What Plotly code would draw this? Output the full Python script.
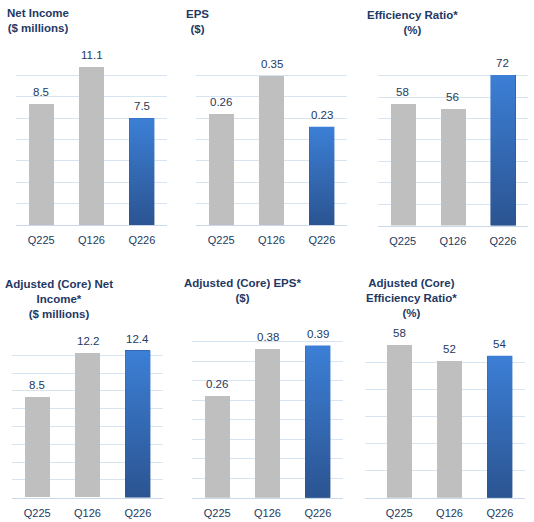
import plotly.graph_objects as go

# ---- data ----
categories = ["Q225", "Q126", "Q226"]
net_income = [8.5, 11.1, 7.5]
eps = [0.26, 0.35, 0.23]
efficiency = [58, 56, 72]
adj_net_income = [8.5, 12.2, 12.4]
adj_eps = [0.26, 0.38, 0.39]
adj_efficiency = [58, 52, 54]

titles = [
    "Net Income<br>($ millions)",
    "EPS<br>($)",
    "Efficiency Ratio*<br>(%)",
    "Adjusted (Core) Net<br>Income*<br>($ millions)",
    "Adjusted (Core) EPS*<br>($)",
    "Adjusted (Core)<br>Efficiency Ratio*<br>(%)",
]
series = [net_income, eps, efficiency, adj_net_income, adj_eps, adj_efficiency]
formats = ["{:.1f}", "{:.2f}", "{:.0f}", "{:.1f}", "{:.2f}", "{:.0f}"]

# ---- layout geometry (pixels) ----
W, H = 534, 522
boxes = [  # x0, x1, ytop, ybottom
    (16, 167, 54, 225),
    (196, 347, 54, 225),
    (377.7, 528, 54, 225.5),
    (12, 163, 337.3, 497.7),
    (192, 343, 322, 497.7),
    (365, 525, 335, 497.7),
]
yaxes_spec = [  # top, dtick
    (12, 1.5), (0.40, 0.05), (82, 10.25),
    (13.5, 1.5), (0.45, 0.05), (61.8, 10.3),
]
xranges = [[-0.5, 2.5]] * 5 + [[-0.68, 2.5]]
title_pos = [(37.5, 20.8), (197.5, 21.7), (412.5, 22.5),
             (59, 298.7), (242, 290.5), (411, 298.4)]

FONT = "Liberation Sans, Arial, sans-serif"
GREY = "#BFBFBF"
BLUE_TOP = "#3C7FD6"
BLUE_BOT = "#2B5491"
GRID = "#D7E4F2"
TEXT = "#243A5E"
TITLE = "#1F3864"

fig = go.Figure()
annotations = []
xs = list(range(len(categories)))
bw = 0.5

for i, vals in enumerate(series):
    n = i + 1
    xa = "x" if n == 1 else f"x{n}"
    ya = "y" if n == 1 else f"y{n}"
    colors = [GREY, GREY, BLUE_BOT]
    fig.add_trace(go.Bar(x=xs, y=vals, width=bw, marker=dict(color=colors, line=dict(width=0)),
                         xaxis=xa, yaxis=ya, hoverinfo="skip", showlegend=False))
    # gradient overlay on the highlighted (last) bar
    j = len(vals) - 1
    v = vals[j]
    fig.add_trace(go.Scatter(
        x=[xs[j] - bw / 2, xs[j] + bw / 2, xs[j] + bw / 2, xs[j] - bw / 2, xs[j] - bw / 2],
        y=[0, 0, v, v, 0], mode="lines", line=dict(width=0), fill="toself",
        fillgradient=dict(type="vertical", colorscale=[[0, BLUE_BOT], [1, BLUE_TOP]]),
        xaxis=xa, yaxis=ya, hoverinfo="skip", showlegend=False))
    for k, val in enumerate(vals):
        annotations.append(dict(x=xs[k], y=val, xref=xa, yref=ya, text=formats[i].format(val),
                                showarrow=False, yanchor="bottom", yshift=4,
                                font=dict(family=FONT, size=11.5, color=TEXT)))
    x0, x1, yt, yb = boxes[i]
    top, dt = yaxes_spec[i]
    nt = int(round(top / dt))
    layout_x = dict(domain=[x0 / W, x1 / W], range=xranges[i], anchor=ya,
                    tickmode="array", tickvals=xs, ticktext=categories,
                    showgrid=False, zeroline=False, showline=True, linecolor="#C9D9EC",
                    linewidth=1, ticks="", ticklabelstandoff=5,
                    tickfont=dict(family=FONT, size=11, color=TEXT), fixedrange=True)
    layout_y = dict(domain=[1 - yb / H, 1 - yt / H], range=[0, top * 1.001], anchor=xa,
                    tickmode="array", tickvals=[k * dt for k in range(nt + 1)],
                    showticklabels=False, showgrid=True, gridcolor=GRID, gridwidth=1,
                    zeroline=False, fixedrange=True)
    fig.update_layout(**{("xaxis" if n == 1 else f"xaxis{n}"): layout_x,
                         ("yaxis" if n == 1 else f"yaxis{n}"): layout_y})
    tx, ty = title_pos[i]
    annotations.append(dict(x=tx / W, y=1 - ty / H, xref="paper", yref="paper",
                            text="<b>" + titles[i] + "</b>", showarrow=False,
                            xanchor="center", yanchor="middle", align="center",
                            font=dict(family=FONT, size=11.5, color=TITLE)))

fig.update_layout(width=W, height=H, margin=dict(l=0, r=0, t=0, b=0),
                  paper_bgcolor="white", plot_bgcolor="white",
                  annotations=annotations, bargap=0, showlegend=False)

fig.write_html("out.html")
